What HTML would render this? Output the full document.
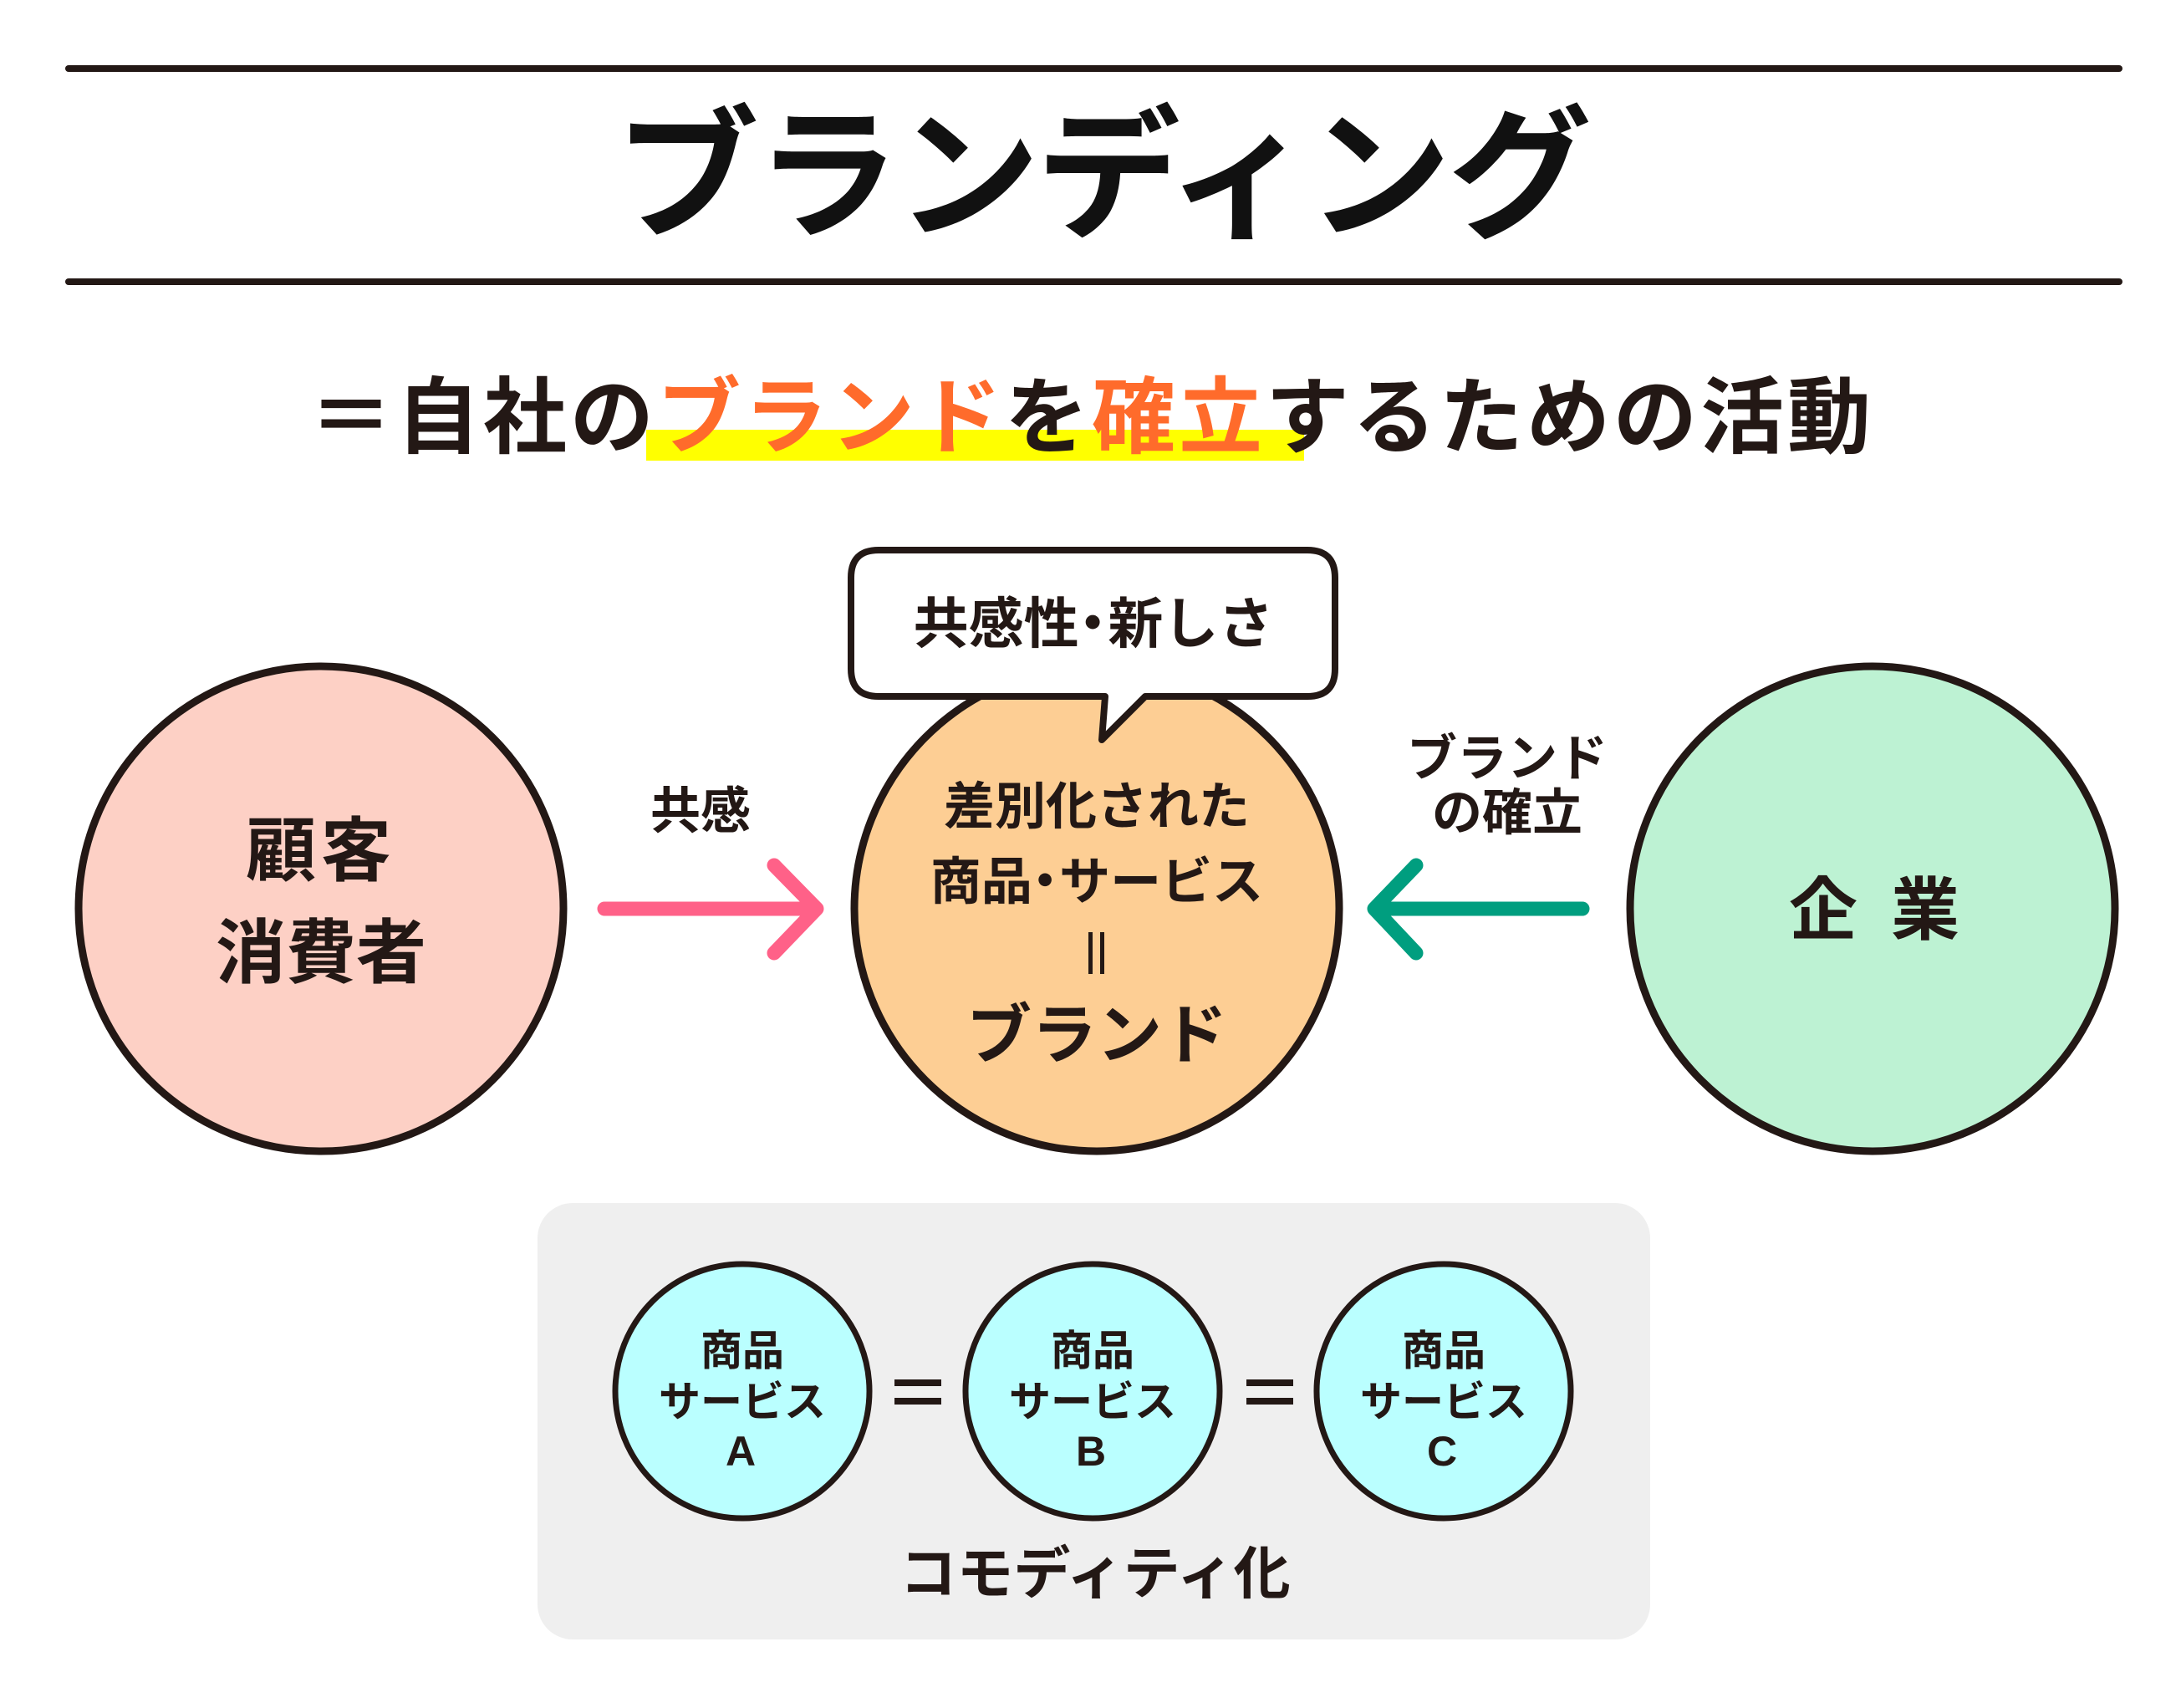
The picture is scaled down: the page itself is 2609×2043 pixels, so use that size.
<!DOCTYPE html>
<html><head><meta charset="utf-8"><style>
html,body{margin:0;padding:0;background:#fff;}
body{width:2609px;height:2043px;position:relative;overflow:hidden;font-family:"Liberation Sans","Noto Sans CJK JP",sans-serif;font-weight:bold;color:#231815;}
.t{position:absolute;white-space:nowrap;text-align:center;transform:translate(-50%,-50%);line-height:1;}
.o{color:#ff6b2b;}
.d{letter-spacing:-0.5em;margin-left:-0.25em;}
</style></head><body>
<svg width="2609" height="2043" style="position:absolute;left:0;top:0">
<line x1="82" y1="82" x2="2535" y2="82" stroke="#231815" stroke-width="8" stroke-linecap="round"/>
<line x1="82" y1="337" x2="2535" y2="337" stroke="#231815" stroke-width="8" stroke-linecap="round"/>
<rect x="773" y="514" width="787" height="37" fill="#ffff00"/>
<rect x="643" y="1439" width="1331" height="522" rx="42" fill="#efefef"/>
<circle cx="384" cy="1087" r="290" fill="#fdd0c5" stroke="#231815" stroke-width="9"/>
<circle cx="1312" cy="1087" r="290" fill="#fdce94" stroke="#231815" stroke-width="9"/>
<circle cx="2240" cy="1087" r="290" fill="#bdf2d3" stroke="#231815" stroke-width="9"/>
<path d="M1053 658 H1564 Q1597 658 1597 691 V800 Q1597 833 1564 833 H1370 L1318 885 L1322 833 H1051 Q1018 833 1018 800 V691 Q1018 658 1051 658 Z" fill="#fff" stroke="#231815" stroke-width="8" stroke-linejoin="round"/>
<path d="M723 1087 H975 M926 1035 L977 1087 L926 1140" fill="none" stroke="#ff6188" stroke-width="17" stroke-linecap="round" stroke-linejoin="round"/>
<path d="M1893 1087 H1650 M1694 1035 L1644 1087 L1694 1140" fill="none" stroke="#009e7f" stroke-width="17" stroke-linecap="round" stroke-linejoin="round"/>
<circle cx="888" cy="1664" r="152" fill="#baffff" stroke="#231815" stroke-width="7"/>
<circle cx="1307" cy="1664" r="152" fill="#baffff" stroke="#231815" stroke-width="7"/>
<circle cx="1727" cy="1664" r="152" fill="#baffff" stroke="#231815" stroke-width="7"/>
<g fill="#231815">
<rect x="1070" y="1650" width="56" height="8"/><rect x="1070" y="1672" width="56" height="8"/>
<rect x="1491" y="1650" width="56" height="8"/><rect x="1491" y="1672" width="56" height="8"/>
<rect x="1302" y="1115" width="5" height="50"/><rect x="1316" y="1115" width="5" height="50"/>
</g>
</svg>
<div class="t" style="left:1318px;top:212px;font-size:172px;letter-spacing:-4px;color:#111">ブランディング</div>
<div class="t" style="left:1306px;top:500px;font-size:100px;letter-spacing:4px;">＝自社の<span class="o">ブランド</span>を<span class="o">確立</span>するための活動</div>
<div class="t" style="left:1308px;top:746px;font-size:66px;">共感性<span class="d">・</span> 新しさ</div>
<div class="t" style="left:384px;top:1018px;font-size:84px;letter-spacing:6px;">顧客</div>
<div class="t" style="left:384px;top:1140px;font-size:84px;">消費者</div>
<div class="t" style="left:838px;top:971px;font-size:60px;">共感</div>
<div class="t" style="left:1803px;top:908px;font-size:60px;">ブランド</div>
<div class="t" style="left:1803px;top:973px;font-size:60px;">の確立</div>
<div class="t" style="left:1312px;top:965px;font-size:61px;">差別化された</div>
<div class="t" style="left:1312px;top:1055px;font-size:61px;">商品<span class="d">・</span> サービス</div>
<div class="t" style="left:1312px;top:1238px;font-size:78px;">ブランド</div>
<div class="t" style="left:2242px;top:1090px;font-size:82px;letter-spacing:40px;padding-left:40px;">企業</div>
<div class="t" style="left:888px;top:1616px;font-size:50px;">商品</div>
<div class="t" style="left:888px;top:1677px;font-size:50px;">サービス</div>
<div class="t" style="left:886px;top:1736px;font-size:50px;">A</div>
<div class="t" style="left:1307px;top:1616px;font-size:50px;">商品</div>
<div class="t" style="left:1307px;top:1677px;font-size:50px;">サービス</div>
<div class="t" style="left:1305px;top:1736px;font-size:50px;">B</div>
<div class="t" style="left:1727px;top:1616px;font-size:50px;">商品</div>
<div class="t" style="left:1727px;top:1677px;font-size:50px;">サービス</div>
<div class="t" style="left:1725px;top:1736px;font-size:50px;">C</div>
<div class="t" style="left:1310px;top:1883px;font-size:68px;">コモディティ化</div>
</body></html>
